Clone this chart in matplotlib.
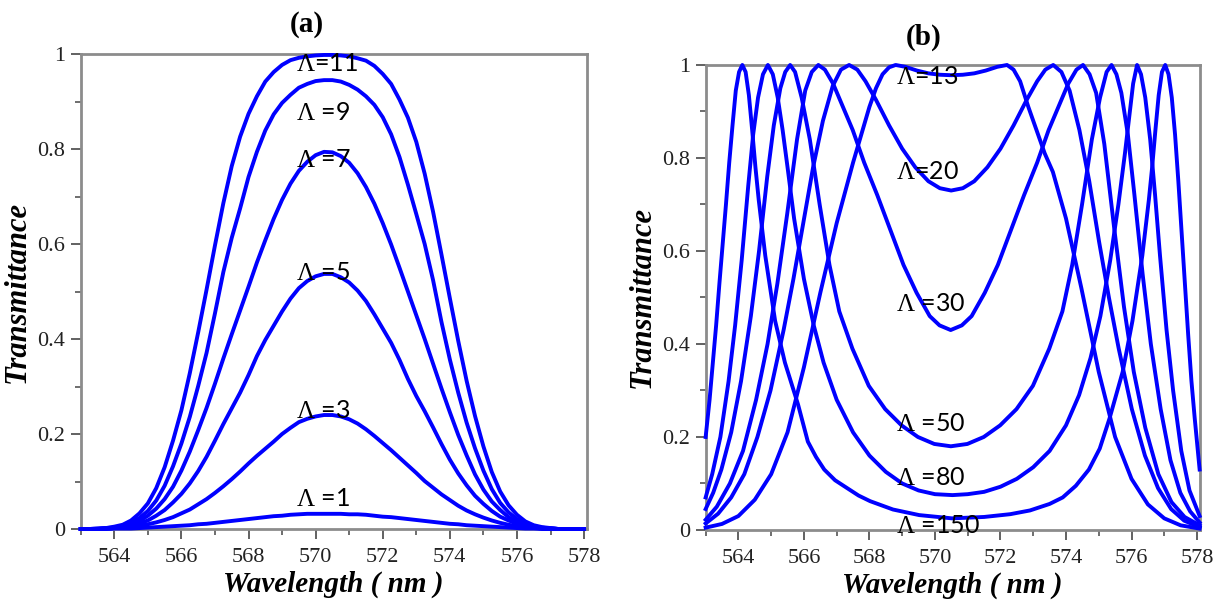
import matplotlib.pyplot as plt
from matplotlib.ticker import MultipleLocator

plt.rcParams["mathtext.fontset"] = "custom"
plt.rcParams["mathtext.rm"] = "Liberation Serif"

# ---- panel (a): transmittance for small Lambda ----
wl_a = [563.0, 563.25, 563.5, 563.75, 564.0, 564.25, 564.5, 564.75, 565.0, 565.25,
        565.5, 565.75, 566.0, 566.25, 566.5, 566.75, 567.0, 567.25, 567.5, 567.75,
        568.0, 568.25, 568.5, 568.75, 569.0, 569.25, 569.5, 569.75, 570.0, 570.25,
        570.5, 570.75, 571.0, 571.25, 571.5, 571.75, 572.0, 572.25, 572.5, 572.75,
        573.0, 573.25, 573.5, 573.75, 574.0, 574.25, 574.5, 574.75, 575.0, 575.25,
        575.5, 575.75, 576.0, 576.25, 576.5, 576.75, 577.0, 577.25, 577.5, 577.75,
        578.0]
t_a1 = [0.0, 0.0, 0.0, 0.0, 0.001, 0.001, 0.001, 0.002, 0.003, 0.004,
        0.005, 0.006, 0.007, 0.008, 0.01, 0.011, 0.013, 0.015, 0.017, 0.019,
        0.021, 0.023, 0.025, 0.027, 0.028, 0.03, 0.031, 0.032, 0.032, 0.032,
        0.032, 0.032, 0.031, 0.031, 0.03, 0.028, 0.026, 0.025, 0.023, 0.021,
        0.019, 0.017, 0.015, 0.013, 0.011, 0.01, 0.008, 0.007, 0.006, 0.005,
        0.004, 0.003, 0.002, 0.001, 0.001, 0.0, 0.0, 0.0, 0.0, 0.0,
        0.0]
t_a3 = [0.0, 0.0, 0.0, 0.001, 0.002, 0.003, 0.004, 0.007, 0.01, 0.014,
        0.019, 0.025, 0.033, 0.041, 0.052, 0.063, 0.076, 0.09, 0.105, 0.121,
        0.138, 0.154, 0.169, 0.184, 0.2, 0.213, 0.225, 0.232, 0.237, 0.24,
        0.24, 0.237, 0.231, 0.222, 0.21, 0.196, 0.181, 0.166, 0.15, 0.134,
        0.118, 0.101, 0.087, 0.073, 0.061, 0.049, 0.039, 0.031, 0.024, 0.018,
        0.013, 0.009, 0.006, 0.004, 0.003, 0.001, 0.001, 0.0, 0.0, 0.0,
        0.0]
t_a5 = [0.0, 0.0, 0.0, 0.001, 0.002, 0.004, 0.007, 0.012, 0.018, 0.028,
        0.04, 0.056, 0.074, 0.096, 0.122, 0.152, 0.186, 0.221, 0.254, 0.287,
        0.324, 0.364, 0.398, 0.428, 0.458, 0.485, 0.507, 0.522, 0.532, 0.537,
        0.537, 0.53, 0.519, 0.502, 0.48, 0.452, 0.422, 0.392, 0.356, 0.316,
        0.28, 0.248, 0.214, 0.179, 0.146, 0.117, 0.092, 0.07, 0.053, 0.038,
        0.026, 0.018, 0.011, 0.007, 0.004, 0.002, 0.001, 0.0, 0.0, 0.0,
        0.0]
t_a7 = [0.0, 0.0, 0.0, 0.001, 0.002, 0.005, 0.009, 0.017, 0.028, 0.043,
        0.063, 0.089, 0.123, 0.163, 0.208, 0.255, 0.306, 0.359, 0.41, 0.46,
        0.51, 0.561, 0.608, 0.653, 0.693, 0.727, 0.754, 0.773, 0.787, 0.794,
        0.793, 0.785, 0.771, 0.749, 0.72, 0.685, 0.644, 0.599, 0.55, 0.5,
        0.45, 0.4, 0.348, 0.296, 0.246, 0.198, 0.155, 0.115, 0.083, 0.058,
        0.04, 0.025, 0.015, 0.008, 0.004, 0.002, 0.001, 0.0, 0.0, 0.0,
        0.0]
t_a9 = [0.0, 0.0, 0.001, 0.002, 0.003, 0.006, 0.013, 0.023, 0.038, 0.06,
        0.091, 0.132, 0.18, 0.236, 0.301, 0.371, 0.454, 0.541, 0.613, 0.675,
        0.741, 0.794, 0.839, 0.873, 0.897, 0.914, 0.929, 0.937, 0.943, 0.945,
        0.945, 0.942, 0.935, 0.925, 0.911, 0.893, 0.867, 0.831, 0.783, 0.725,
        0.663, 0.6, 0.524, 0.436, 0.357, 0.287, 0.224, 0.17, 0.123, 0.084,
        0.055, 0.035, 0.021, 0.011, 0.005, 0.003, 0.001, 0.0, 0.0, 0.0,
        0.0]
t_a11 = [0.0, 0.0, 0.001, 0.002, 0.005, 0.009, 0.018, 0.033, 0.054, 0.086,
         0.13, 0.186, 0.25, 0.328, 0.414, 0.504, 0.597, 0.686, 0.764, 0.826,
         0.874, 0.911, 0.942, 0.962, 0.977, 0.987, 0.992, 0.995, 0.997, 0.998,
         0.998, 0.997, 0.995, 0.991, 0.986, 0.975, 0.958, 0.937, 0.904, 0.866,
         0.815, 0.748, 0.668, 0.578, 0.486, 0.396, 0.312, 0.238, 0.174, 0.12,
         0.079, 0.05, 0.03, 0.016, 0.008, 0.004, 0.002, 0.0, 0.0, 0.0,
         0.0]
labels_a = [r"$\mathrm{\Lambda}$ =1", r"$\mathrm{\Lambda}$ =3", r"$\mathrm{\Lambda}$ =5",
            r"$\mathrm{\Lambda}$ =7", r"$\mathrm{\Lambda}$ =9", r"$\mathrm{\Lambda}$=11"]
label_t_a = [0.065, 0.25, 0.539, 0.777, 0.876, 0.98]

# ---- panel (b): transmittance for large Lambda ----
wl_b13 = [563.0, 563.5, 564.0, 564.5, 565.0, 565.5, 566.0, 566.5, 566.75, 567.0,
          567.25, 567.5, 567.75, 568.0, 568.2, 568.4, 568.6, 568.8, 569.1, 569.45,
          569.8, 570.15, 570.5, 570.85, 571.2, 571.55, 571.9, 572.2, 572.4, 572.6,
          572.85, 573.1, 573.35, 573.6, 574.0, 574.47, 575.0, 575.5, 576.0, 576.5,
          577.0, 577.5, 578.08]
t_b13 = [0.005, 0.013, 0.03, 0.065, 0.12, 0.21, 0.35, 0.51, 0.585, 0.66,
         0.725, 0.79, 0.85, 0.91, 0.95, 0.98, 0.995, 1.0, 0.996, 0.988,
         0.982, 0.979, 0.978, 0.979, 0.982, 0.988, 0.996, 1.0, 0.99, 0.965,
         0.91, 0.86, 0.81, 0.77, 0.67, 0.52, 0.34, 0.2, 0.11, 0.055,
         0.025, 0.01, 0.003]
wl_b20 = [563.0, 563.38, 563.78, 564.18, 564.58, 564.98, 565.38, 565.68, 565.98,
          566.28, 566.58, 566.88, 567.13, 567.38, 567.63, 567.88, 568.2, 568.6,
          569.0, 569.4, 569.8, 570.15, 570.495, 570.85, 571.2, 571.6, 572.0, 572.4,
          572.8, 573.12, 573.37, 573.61, 573.86, 574.11, 574.41, 574.71, 575.01,
          575.31, 575.61, 576.01, 576.41, 576.81, 577.21, 577.61, 578.08]
t_b20 = [0.014, 0.035, 0.07, 0.12, 0.2, 0.3, 0.43, 0.54, 0.66,
         0.78, 0.88, 0.955, 0.99, 1.0, 0.99, 0.965, 0.925, 0.87,
         0.82, 0.78, 0.75, 0.735, 0.73, 0.735, 0.75, 0.78, 0.82, 0.87,
         0.925, 0.965, 0.99, 1.0, 0.985, 0.945, 0.86, 0.75, 0.62,
         0.5, 0.39, 0.26, 0.16, 0.09, 0.045, 0.02, 0.006]
wl_b30 = [563.0, 563.34, 563.74, 564.14, 564.54, 564.89, 565.19, 565.49, 565.79,
          566.04, 566.24, 566.44, 566.64, 566.89, 567.19, 567.49, 567.84, 568.24,
          568.64, 569.04, 569.44, 569.84, 570.14, 570.48, 570.82, 571.12, 571.52,
          571.92, 572.32, 572.72, 573.12, 573.47, 573.77, 574.07, 574.32, 574.52,
          574.72, 574.92, 575.17, 575.47, 575.77, 576.07, 576.42, 576.82, 577.22,
          577.62, 578.08]
t_b30 = [0.022, 0.05, 0.1, 0.17, 0.28, 0.4, 0.53, 0.68, 0.84,
         0.945, 0.985, 1.0, 0.99, 0.96, 0.91, 0.86, 0.79, 0.72,
         0.645, 0.57, 0.51, 0.46, 0.44, 0.43, 0.44, 0.46, 0.51,
         0.57, 0.645, 0.72, 0.79, 0.86, 0.91, 0.96, 0.99, 1.0,
         0.98, 0.94, 0.83, 0.65, 0.48, 0.34, 0.22, 0.12, 0.06,
         0.028, 0.01]
wl_b50 = [563.0, 563.23, 563.48, 563.78, 564.08, 564.38, 564.63, 564.88, 565.08,
          565.28, 565.43, 565.58, 565.73, 565.93, 566.18, 566.48, 566.78, 567.08,
          567.48, 567.98, 568.48, 568.98, 569.48, 569.98, 570.485, 570.99, 571.49,
          571.99, 572.49, 572.99, 573.49, 573.89, 574.19, 574.49, 574.79, 575.04,
          575.24, 575.39, 575.54, 575.69, 575.89, 576.09, 576.34, 576.59, 576.89,
          577.19, 577.49, 577.79, 578.08]
t_b50 = [0.045, 0.08, 0.13, 0.21, 0.32, 0.46, 0.6, 0.76, 0.87,
         0.95, 0.985, 1.0, 0.985, 0.93, 0.84, 0.7, 0.57, 0.47,
         0.39, 0.31, 0.26, 0.225, 0.2, 0.185, 0.18, 0.185, 0.2,
         0.225, 0.26, 0.31, 0.39, 0.47, 0.57, 0.7, 0.84, 0.93,
         0.985, 1.0, 0.98, 0.94, 0.85, 0.72, 0.55, 0.4, 0.26,
         0.15, 0.08, 0.04, 0.016]
wl_b80 = [563.0, 563.2, 563.45, 563.7, 563.9, 564.1, 564.3, 564.45, 564.6, 564.75,
          564.9, 565.05, 565.2, 565.35, 565.5, 565.7, 566.0, 566.3, 566.6, 567.0,
          567.5, 568.0, 568.5, 569.0, 569.5, 570.0, 570.535, 571.0, 571.5, 572.0,
          572.5, 573.0, 573.5, 574.0, 574.4, 574.75, 575.05, 575.35, 575.6, 575.8,
          575.95, 576.05, 576.17, 576.29, 576.42, 576.57, 576.72, 576.87, 577.07,
          577.27, 577.52, 577.77, 578.08]
t_b80 = [0.07, 0.12, 0.2, 0.32, 0.44, 0.58, 0.74, 0.85, 0.93, 0.98,
         1.0, 0.98, 0.93, 0.86, 0.78, 0.67, 0.54, 0.44, 0.36, 0.28,
         0.21, 0.16, 0.125, 0.1, 0.085, 0.077, 0.075, 0.077, 0.082, 0.093,
         0.11, 0.135, 0.17, 0.225, 0.29, 0.37, 0.46, 0.58, 0.7, 0.81,
         0.9, 0.96, 1.0, 0.98, 0.93, 0.84, 0.72, 0.59, 0.43,
         0.3, 0.17, 0.085, 0.03]
wl_b150 = [563.0, 563.12, 563.22, 563.32, 563.42, 563.52, 563.62, 563.72, 563.82,
           563.92, 564.02, 564.12, 564.22, 564.32, 564.42, 564.52, 564.62, 564.82,
           565.12, 565.42, 565.82, 566.12, 566.37, 566.62, 566.95, 567.32, 567.67,
           568.02, 568.72, 569.52, 570.52, 571.5, 572.3, 572.9, 573.5, 573.9, 574.3,
           574.7, 575.03, 575.33, 575.73, 576.03, 576.33, 576.53, 576.63, 576.73,
           576.83, 576.93, 577.03, 577.13, 577.23, 577.33, 577.43, 577.53, 577.63,
           577.73, 577.83, 577.93, 578.08]
t_b150 = [0.2, 0.28, 0.36, 0.44, 0.53, 0.615, 0.7, 0.79, 0.87,
          0.945, 0.985, 1.0, 0.985, 0.935, 0.86, 0.78, 0.71, 0.59,
          0.45, 0.36, 0.27, 0.19, 0.157, 0.13, 0.107, 0.09, 0.074,
          0.062, 0.044, 0.032, 0.025, 0.028, 0.034, 0.042, 0.056, 0.07, 0.095,
          0.13, 0.175, 0.24, 0.34, 0.45, 0.59, 0.71, 0.78, 0.86,
          0.935, 0.985, 1.0, 0.98, 0.93, 0.85, 0.75, 0.64, 0.53,
          0.42, 0.32, 0.24, 0.13]
labels_b = [r"$\mathrm{\Lambda}$=13", r"$\mathrm{\Lambda}$=20", r"$\mathrm{\Lambda}$ =30",
            r"$\mathrm{\Lambda}$ =50", r"$\mathrm{\Lambda}$ =80", r"$\mathrm{\Lambda}$ =150"]
label_t_b = [0.976, 0.77, 0.488, 0.23, 0.112, 0.01]

BLUE = "#0000ff"
SERIF = "Liberation Serif"
LABEL_FONT = ["Lato", "Liberation Sans"]


def style_axes(ax):
    ax.set_xlim(563.0, 578.08)
    ax.set_ylim(0, 1)
    ax.xaxis.set_major_locator(MultipleLocator(2))
    ax.xaxis.set_minor_locator(MultipleLocator(1))
    ax.yaxis.set_minor_locator(MultipleLocator(0.1))
    ax.set_yticks([0, 0.2, 0.4, 0.6, 0.8, 1])
    ax.set_yticklabels(["0", "0.2", "0.4", "0.6", "0.8", "1"])
    for s in ax.spines.values():
        s.set_color("#8c8c8c")
        s.set_linewidth(2)
    ax.tick_params(which="major", direction="out", length=7, width=1.3,
                   color="#555555", labelsize=16, pad=4)
    ax.tick_params(axis="x", which="major", pad=7)
    ax.tick_params(which="minor", direction="out", length=4, width=1.2,
                   color="#555555")
    for lab in ax.get_xticklabels() + ax.get_yticklabels():
        lab.set_fontfamily(SERIF)
        lab.set_color("#222222")
    ax.set_xlabel("Wavelength ( nm )", fontfamily=SERIF, fontweight="bold",
                  fontstyle="italic", fontsize=21, labelpad=2)
    ax.set_ylabel("Transmittance", fontfamily=SERIF, fontweight="bold",
                  fontstyle="italic", fontsize=22, labelpad=4)


fig = plt.figure(figsize=(12.27, 6), dpi=100)
ax_a = fig.add_axes([0.0658, 0.1183, 0.4124, 0.7917])
ax_b = fig.add_axes([0.5751, 0.1167, 0.4026, 0.775])

for t in [t_a1, t_a3, t_a5, t_a7, t_a9, t_a11]:
    ax_a.plot(wl_a, t, color=BLUE, lw=2.8, clip_on=False, zorder=3)
for lab, y in zip(labels_a, label_t_a):
    ax_a.text(569.42, y, lab, fontfamily=LABEL_FONT, fontsize=18,
              ha="left", va="center", zorder=4)

curves_b = [(wl_b13, t_b13), (wl_b20, t_b20), (wl_b30, t_b30),
            (wl_b50, t_b50), (wl_b80, t_b80), (wl_b150, t_b150)]
for wl, t in curves_b:
    ax_b.plot(wl, t, color=BLUE, lw=2.8, clip_on=False, zorder=3)
for lab, y in zip(labels_b, label_t_b):
    ax_b.text(568.81, y, lab, fontfamily=LABEL_FONT, fontsize=18,
              ha="left", va="center", zorder=4)

style_axes(ax_a)
style_axes(ax_b)

fig.text(307 / 1227, 1 - 25 / 600, "(a)", fontfamily=SERIF, fontweight="bold",
         fontsize=21, ha="center", va="center")
fig.text(924 / 1227, 1 - 37 / 600, "(b)", fontfamily=SERIF, fontweight="bold",
         fontsize=21, ha="center", va="center")

fig.savefig("out.png", dpi=100)
